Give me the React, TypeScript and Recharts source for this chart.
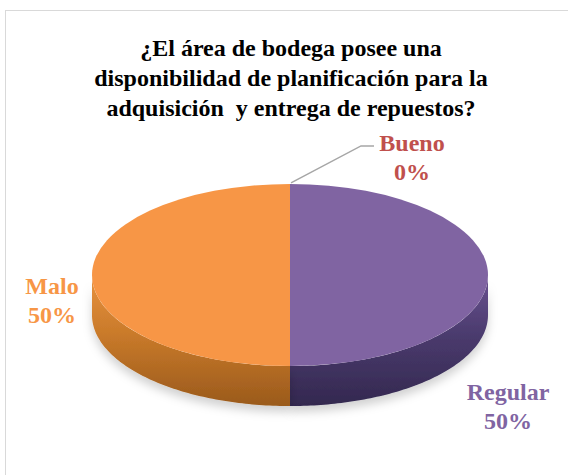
import { Pie, PieChart } from "recharts";

const NAMES = ["Bueno", "Regular", "Malo"];
const VALUES = [0, 50, 50];
const PERCENT_LABELS = ["0%", "50%", "50%"];
const TITLE_LINES = [
  "¿El área de bodega posee una",
  "disponibilidad de planificación para la",
  "adquisición  y entrega de repuestos?"
];

const TOP_COLORS = ["#C0504D", "#8064A2", "#F79646"];
const SIDE_IDS = ["sideRed", "sidePurple", "sideOrange"];
const LABEL_COLORS = ["#C0504D", "#8064A2", "#F79646"];
const LABEL_OFFSET: Record<string, { dx: number; dy: number }> = {
  Bueno: { dx: 122, dy: -33 },
  Regular: { dx: 20, dy: 125 },
  Malo: { dx: -40, dy: 19 }
};
const SERIF = "'Times New Roman', Times, 'Liberation Serif', 'DejaVu Serif', serif";

const data = NAMES.map((name, i) => ({ name, value: VALUES[i], pct: PERCENT_LABELS[i], idx: i }));

const SCALE_Y = 0.46;
const DEPTH = 40;
const RAD = Math.PI / 180;

const pt = (cx: number, cy: number, r: number, a: number) => [
  cx + r * Math.cos(-a * RAD),
  cy + r * SCALE_Y * Math.sin(-a * RAD)
];

const Slice3D = (props: any) => {
  const { cx, cy, outerRadius: r, startAngle, endAngle, payload } = props;
  const i = payload?.idx ?? props.index ?? 0;
  const span = Math.abs(endAngle - startAngle);
  if (span < 0.01) return <g />;
  const [sx, sy] = pt(cx, cy, r, startAngle);
  const [ex, ey] = pt(cx, cy, r, endAngle);
  const sweep = startAngle > endAngle ? 1 : 0;
  const large = span > 180 ? 1 : 0;
  const top = `M${cx},${cy} L${sx},${sy} A${r},${r * SCALE_Y} 0 ${large} ${sweep} ${ex},${ey} Z`;

  // front wall: only the part of the arc that faces the viewer
  const front: number[][] = [];
  const steps = Math.ceil(span);
  for (let s = 0; s <= steps; s++) {
    const a = startAngle + ((endAngle - startAngle) * s) / steps;
    if (Math.sin(-a * RAD) >= -1e-6) front.push(pt(cx, cy, r, a));
  }
  let side = "";
  if (front.length > 1) {
    side =
      "M" +
      front.map((p) => `${p[0]},${p[1]}`).join(" L") +
      " L" +
      front
        .slice()
        .reverse()
        .map((p) => `${p[0]},${p[1] + DEPTH}`)
        .join(" L") +
      " Z";
  }
  return (
    <g>
      {side && <path d={side} fill={`url(#${SIDE_IDS[i]})`} filter="url(#pieShadow)" />}
      <path d={top} fill={TOP_COLORS[i]} />
    </g>
  );
};

const renderLabel = (props: any) => {
  const { cx, cy, midAngle, outerRadius, payload } = props;
  const i = payload?.idx ?? props.index ?? 0;
  const name = NAMES[i];
  const [ax, ay] = pt(cx, cy, outerRadius, midAngle);
  const off = LABEL_OFFSET[name];
  const x = ax + off.dx;
  const y = ay + off.dy;
  const st = { fontFamily: SERIF, fontWeight: 700, fontSize: 24, fill: LABEL_COLORS[i] };
  return (
    <g key={name}>
      {VALUES[i] === 0 && (
        <polyline
          points={`${ax + 1},${ay - 1} ${x - 51},${y - 5} ${x - 38},${y - 5}`}
          fill="none"
          stroke="#A6A6A6"
          strokeWidth={1.5}
        />
      )}
      <text x={x} y={y} textAnchor="middle" style={st}>
        {name}
      </text>
      <text x={x} y={y + 29} textAnchor="middle" style={st}>
        {PERCENT_LABELS[i]}
      </text>
    </g>
  );
};

export default function App() {
  return (
    <div
      style={{
        position: "absolute",
        left: 0,
        top: 0,
        width: 568,
        height: 475,
        overflow: "hidden",
        background: "#fff",
        fontFamily: SERIF
      }}
    >
      <div
        style={{
          position: "absolute",
          left: 5,
          top: 10,
          width: 620,
          height: 520,
          border: "1.5px solid #D9D9D9"
        }}
      />
      <PieChart
        width={568}
        height={475}
        margin={{ top: 0, right: 0, bottom: 0, left: 0 }}
        style={{ position: "absolute", left: 0, top: 0 }}
      >
        <defs>
          <linearGradient id="sideOrange" x1="0" y1="0" x2="0" y2="1">
            <stop offset="0%" stopColor="#E8923F" />
            <stop offset="45%" stopColor="#C97A2A" />
            <stop offset="100%" stopColor="#9A5A1C" />
          </linearGradient>
          <linearGradient id="sidePurple" x1="0" y1="0" x2="0" y2="1">
            <stop offset="0%" stopColor="#6A5290" />
            <stop offset="45%" stopColor="#4B3B6E" />
            <stop offset="100%" stopColor="#33284F" />
          </linearGradient>
          <linearGradient id="sideRed" x1="0" y1="0" x2="0" y2="1">
            <stop offset="0%" stopColor="#A0403D" />
            <stop offset="100%" stopColor="#702A28" />
          </linearGradient>
          <filter id="pieShadow" x="-20%" y="-50%" width="140%" height="200%">
            <feDropShadow dx="0" dy="6" stdDeviation="5" floodColor="#000" floodOpacity="0.18" />
          </filter>
        </defs>
        <text
          textAnchor="middle"
          style={{ fontFamily: SERIF, fontWeight: 700, fontSize: 24, fill: "#000" }}
        >
          {TITLE_LINES.map((line, i) => (
            <tspan key={i} x={291} y={56 + i * 30} xmlSpace="preserve">
              {line}
            </tspan>
          ))}
        </text>
        <Pie
          data={data}
          dataKey="value"
          nameKey="name"
          cx={290}
          cy={275}
          outerRadius={198}
          startAngle={90}
          endAngle={-270}
          stroke="none"
          shape={Slice3D}
          label={renderLabel}
          labelLine={false}
          isAnimationActive={false}
        />
      </PieChart>
    </div>
  );
}
